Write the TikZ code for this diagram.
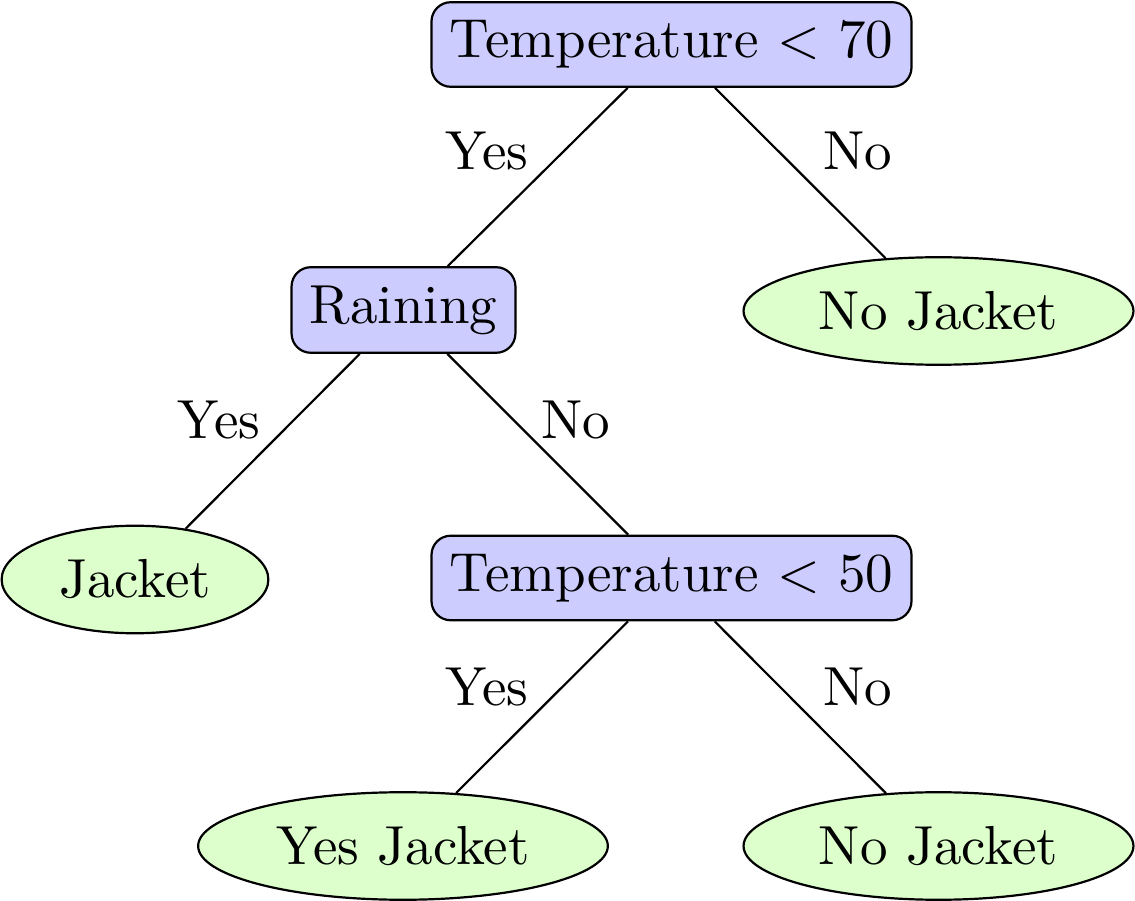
\documentclass[tikz,border=0pt]{standalone}
\usetikzlibrary{shapes.geometric}
\definecolor{decfill}{RGB}{204,204,255}
\definecolor{leaffill}{RGB}{221,255,204}
\begin{document}
\begin{tikzpicture}[x={(0.181818pt,0pt)}, y={(0pt,-0.181818pt)},
  decision/.style={draw, rounded corners=3.5pt, fill=decfill, line width=0.4pt},
  leaf/.style={draw, ellipse, fill=leaffill, line width=0.4pt},
  lbl/.style={inner sep=0pt},
  conn/.style={draw, line width=0.4pt}]
\useasboundingbox (0,0) rectangle (1135,901);
\node[decision] (root) at (671.5,44.5) {Temperature $<$ 70};
\node[decision] (rain) at (403.5,310) {Raining};
\node[leaf] (nj1) at (938.5,311) {No Jacket};
\node[leaf] (jk) at (135,579.5) {Jacket};
\node[decision] (t50) at (671.5,578) {Temperature $<$ 50};
\node[leaf] (yj) at (403,846) {Yes Jacket};
\node[leaf] (nj2) at (938.5,846) {No Jacket};
\draw[conn] (root) -- (rain);
\draw[conn] (root) -- (nj1);
\draw[conn] (rain) -- (jk);
\draw[conn] (rain) -- (t50);
\draw[conn] (t50) -- (yj);
\draw[conn] (t50) -- (nj2);
\node[lbl] (l1) at (487,151) {Yes};
\node[lbl] (l2) at (858,151) {No};
\node[lbl] (l3) at (219,420) {Yes};
\node[lbl] (l4) at (576,420) {No};
\node[lbl] (l5) at (487,687) {Yes};
\node[lbl] (l6) at (858,687) {No};
\end{tikzpicture}
\end{document}
